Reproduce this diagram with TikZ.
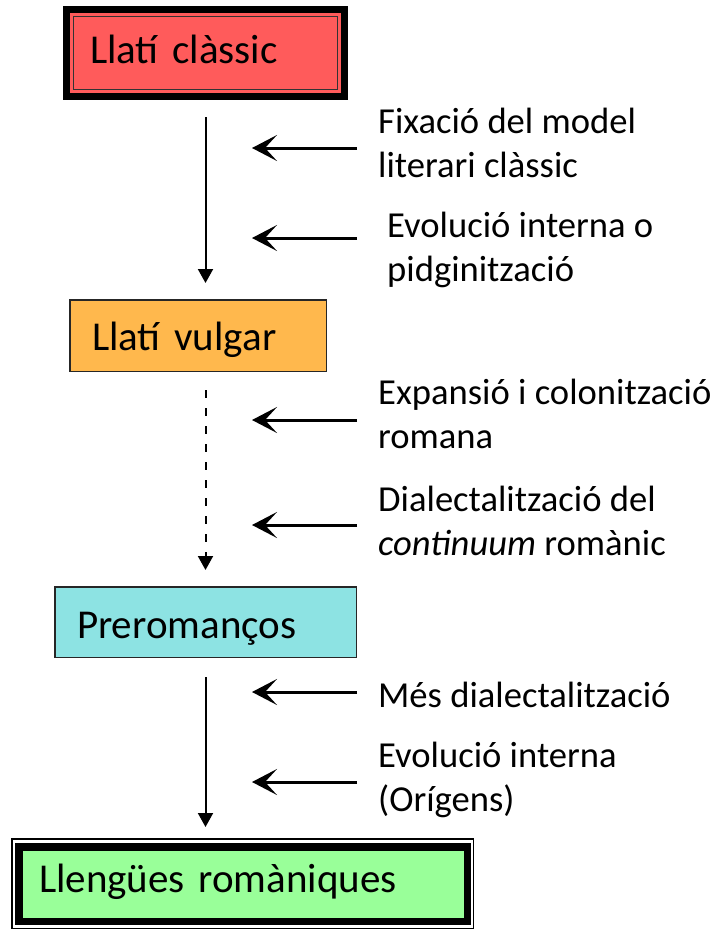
\documentclass[tikz,border=0pt]{standalone}
\usepackage{fontspec}
\setmainfont{Carlito}
\usetikzlibrary{arrows.meta}

\definecolor{classred}{HTML}{FF5B5B}
\definecolor{vulgarorange}{HTML}{FFB84D}
\definecolor{preromcyan}{HTML}{8DE3E3}
\definecolor{romgreen}{HTML}{99FF99}

\begin{document}
\begin{tikzpicture}[x=1pt,y=-1pt,
  stagebox/.style={rectangle, align=left, inner ysep=0pt, outer sep=0pt,
    font=\fontsize{41}{48}\selectfont, text depth=10pt},
  sidetext/.style={anchor=base west, align=left, inner sep=0pt,
    font=\fontsize{36.6}{44}\selectfont},
  vlink/.style={line width=2pt, -{Triangle[length=14pt,width=15pt]}},
  hlink/.style={line width=3pt, -{Stealth[length=25pt,width=26pt,inset=12pt]}}]
\useasboundingbox (0,0) rectangle (720,930);

% The four stages
\node[stagebox, fill=classred, draw=black, line width=7pt,
  minimum width=278pt, minimum height=87pt, inner xsep=23.5pt,
  text width=231pt, text height=30pt] (classic) at (205.5,53) {Llatí clàssic};
\node[stagebox, fill=vulgarorange, draw=black!85, line width=1.5pt,
  minimum width=256.5pt, minimum height=71.5pt, inner xsep=22.25pt,
  text width=212pt, text height=39pt] (vulgar) at (198,335.5) {Llatí vulgar};
\node[stagebox, fill=preromcyan, draw=black!85, line width=1.5pt,
  minimum width=301.5pt, minimum height=70.5pt, inner xsep=22.25pt,
  text width=257pt, text height=42pt] (preromancos) at (205.5,622) {Preromanços};
\node[stagebox, fill=romgreen, draw=black, line width=7.5pt,
  minimum width=448.5pt, minimum height=74.5pt, inner xsep=20.25pt,
  text width=408pt, text height=26pt] (romaniques) at (243,884) {Llengües romàniques};

% Extra frames round the first and the last box
\draw[line width=1.5pt, black!80] ([shift={(7,7)}]classic.north west)
  rectangle ([shift={(-7,-7)}]classic.south east);
\draw[line width=1.5pt] ([shift={(-7,-8)}]romaniques.north west)
  rectangle ([shift={(6,7)}]romaniques.south east);

% Vertical arrows between the stages
\draw[vlink, shorten <=20.5pt, shorten >=16.75pt]
  (classic.south) -- (classic.south |- vulgar.north);
\draw[vlink, dash pattern=on 8pt off 10pt, shorten <=18.75pt, shorten >=16.75pt]
  (preromancos.north |- vulgar.south) -- (preromancos.north);
\draw[vlink, shorten <=19.75pt, shorten >=19.75pt]
  (preromancos.south) -- (preromancos.south |- romaniques.north);

% Tails and tips of the side arrows
\coordinate (A) at (357,148);
\coordinate (B) at (357,238);
\coordinate (C) at (357,420);
\coordinate (D) at (357,525);
\coordinate (E) at (357,692);
\coordinate (F) at (357,782);
\coordinate (G) at (252,148);
\coordinate (H) at (252,238);
\coordinate (I) at (252,420);
\coordinate (J) at (252,525);
\coordinate (K) at (252,692);
\coordinate (L) at (252,782);

\draw[hlink] (A) -- (G);
\draw[hlink] (B) -- (H);
\draw[hlink] (C) -- (I);
\draw[hlink] (D) -- (J);
\draw[hlink] (E) -- (K);
\draw[hlink] (F) -- (L);

% Side labels (base = last line)
\node[sidetext] (fixacio) at (378,177) {Fixació del model\\literari clàssic};
\node[sidetext] (pidgin) at (387,281) {Evolució interna o\\pidginització};
\node[sidetext] (expansio) at (378,448) {Expansió i colonització\\romana};
\node[sidetext] (dialect) at (378,555) {Dialectalització del\\\textit{continuum} romànic};
\node[sidetext] (mesdial) at (378,707) {Més dialectalització};
\node[sidetext] (origens) at (378,811) {Evolució interna\\(Orígens)};

\end{tikzpicture}
\end{document}
